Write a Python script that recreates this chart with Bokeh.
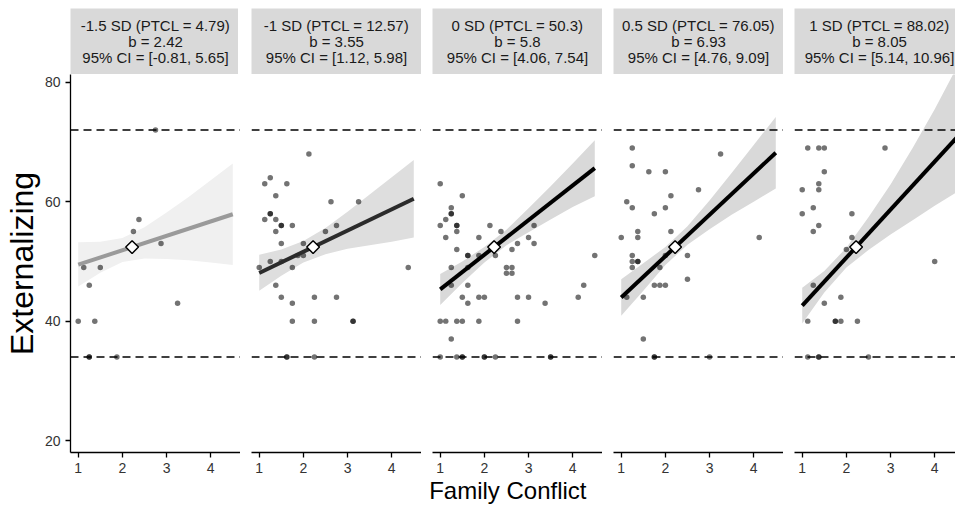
from bokeh.plotting import figure
from bokeh.layouts import row, column
from bokeh.models import Range1d, FixedTicker, Span, Title
from bokeh.embed import file_html
from bokeh.resources import INLINE
from bokeh.core.properties import value

FONT = "Liberation Sans"

# ---------------- data ----------------
strip_line1 = ["-1.5 SD (PTCL = 4.79)", "-1 SD (PTCL = 12.57)", "0 SD (PTCL = 50.3)",
               "0.5 SD (PTCL = 76.05)", "1 SD (PTCL = 88.02)"]
strip_line2 = ["b = 2.42", "b = 3.55", "b = 5.8", "b = 6.93", "b = 8.05"]
strip_line3 = ["95% CI = [-0.81, 5.65]", "95% CI = [1.12, 5.98]", "95% CI = [4.06, 7.54]",
               "95% CI = [4.76, 9.09]", "95% CI = [5.14, 10.96]"]
x_ticks = [1, 2, 3, 4]
y_ticks = [20, 40, 60, 80]
ref_lines = [72, 34]

p1_x = [1.0, 1.125, 1.25, 1.375, 1.5, 1.875, 2.25, 2.375, 2.75, 2.875, 3.25, 1.25, 1.25]
p1_y = [40, 49, 46, 40, 49, 34, 55, 57, 72, 53, 43, 34, 34]

p2_x = [2.125, 1.25, 1.125, 1.625, 1.375, 2.625, 3.25, 1.25, 1.25, 1.125, 1.375, 1.5, 1.5,
        1.75, 2.75, 1.375, 2.5, 1.5, 2.0, 1.875, 2.0, 1.0, 1.25, 1.5, 1.75, 4.375, 1.375,
        1.5, 2.25, 2.75, 1.75, 1.75, 2.25, 3.125, 3.125, 1.625, 1.625, 2.25]
p2_y = [68, 64, 63, 63, 61, 60, 60, 58, 58, 57, 57, 56, 56,
        56, 56, 55, 55, 53, 53, 51, 51, 49, 50, 50, 49, 49, 46,
        44, 44, 44, 43, 40, 40, 40, 40, 34, 34, 34]

p3_x = [1.0, 1.5, 1.25, 1.25, 1.25, 1.125, 1.0, 1.375, 1.375, 1.375, 2.125, 2.375, 3.125,
        1.125, 1.875, 3.0, 2.75, 3.125, 1.375, 2.625, 1.625, 1.625, 1.875, 2.25, 4.5,
        1.625, 1.25, 2.5, 2.625, 2.5, 2.625, 1.25, 1.625, 4.25, 1.5, 1.875, 2.0, 2.75,
        3.0, 4.125, 1.625, 3.375, 1.0, 1.125, 1.375, 1.5, 1.875, 2.75, 1.25, 1.0, 1.375,
        1.5, 1.5, 2.0, 2.0, 2.25, 3.5, 3.5]
p3_y = [63, 61, 59, 58, 58, 57, 56, 56, 56, 55, 56, 55, 56,
        54, 54, 54, 53, 53, 52, 52, 51, 51, 51, 51, 51,
        49, 49, 49, 49, 48, 48, 46, 46, 46, 44, 44, 44, 44,
        44, 44, 43, 43, 40, 40, 40, 40, 40, 40, 37, 34, 34,
        34, 34, 34, 34, 34, 34, 34]

p4_x = [1.25, 3.25, 1.25, 1.625, 2.0, 2.75, 2.125, 1.125, 1.25, 2.0, 1.75, 1.375, 2.125,
        1.0, 1.375, 4.125, 2.0, 2.5, 1.25, 1.25, 1.375, 1.375, 1.25, 1.875, 2.5, 1.75,
        1.875, 2.0, 1.125, 1.5, 1.5, 1.75, 1.75, 3.0]
p4_y = [69, 68, 66, 65, 65, 62, 61, 60, 59, 59, 58, 55, 55,
        54, 54, 54, 51, 51, 51, 50, 50, 50, 49, 49, 47, 46,
        46, 46, 44, 44, 37, 34, 34, 34]

p5_x = [1.125, 1.375, 1.5, 2.875, 1.5, 1.375, 1.0, 1.375, 1.25, 1.0, 2.125, 1.375, 1.25,
        2.125, 2.0, 4.0, 1.25, 1.875, 1.5, 1.125, 1.75, 1.75, 1.875, 2.25, 1.125, 1.375,
        1.375, 2.5]
p5_y = [69, 69, 69, 69, 65, 63, 62, 62, 59, 58, 58, 56, 55,
        54, 52, 50, 46, 44, 43, 40, 40, 40, 40, 40, 34, 34,
        34, 34]

points_x = [p1_x, p2_x, p3_x, p4_x, p5_x]
points_y = [p1_y, p2_y, p3_y, p4_y, p5_y]

# fitted line end points (x = 1 and x = 4.5)
line_x = [1.0, 4.5]
line_y = [[49.45, 57.90], [48.07, 60.49], [45.32, 65.62], [43.95, 68.20], [42.58, 70.75]]

# confidence band
band_x = [1.0, 1.5, 2.0, 2.5, 3.0, 3.5, 4.0, 4.5]
band_lower = [
    [45.8, 48.1, 49.9, 50.5, 50.4, 50.2, 49.8, 49.4],
    [45.1, 47.6, 49.8, 51.2, 52.1, 52.7, 53.3, 54.0],
    [42.7, 46.4, 49.8, 52.7, 54.9, 57.0, 59.1, 60.9],
    [40.9, 45.1, 49.4, 52.8, 55.4, 57.8, 60.0, 62.2],
    [39.6, 44.8, 49.0, 51.9, 54.5, 56.9, 59.3, 61.6],
]
band_upper = [
    [53.2, 53.3, 53.9, 55.7, 58.2, 60.8, 63.6, 66.4],
    [51.1, 52.0, 53.4, 55.6, 58.3, 61.2, 64.1, 67.0],
    [47.9, 50.0, 52.4, 55.3, 58.9, 62.6, 66.4, 70.3],
    [47.0, 49.7, 52.4, 55.9, 60.2, 64.8, 69.5, 74.2],
    [45.6, 48.4, 52.3, 57.4, 62.9, 69.0, 75.5, 82.5],
]

# mean point (diamond)
center_x = [2.22, 2.22, 2.22, 2.22, 2.22]
center_y = [52.4, 52.4, 52.4, 52.4, 52.4]

# ---------------- styles ----------------
line_colors = ["#9a9a9a", "#2b2b2b", "#000000", "#000000", "#000000"]
band_colors = ["#f0f0f0", "#dedede", "#d9d9d9", "#d9d9d9", "#d9d9d9"]
STRIP_FILL = "#d9d9d9"
X_LIM = (0.825, 4.675)
Y_LIM = (18.0, 81.3)
FRAME_W = 170
LAST_W = 161
GAP = 11
LEFT = 68
TOP = 8
STRIP_H = 66
FRAME_H = 378
BOTTOM = 50
STRIP_TEXT_Y = [0.745, 0.505, 0.265]
px_per_unit = FRAME_W / (X_LIM[1] - X_LIM[0])


def style_axis(ax):
    ax.axis_line_color = "black"
    ax.axis_line_width = 1.3
    ax.major_tick_line_color = "black"
    ax.major_tick_line_width = 1.3
    ax.major_tick_in = 0
    ax.major_tick_out = 5
    ax.minor_tick_line_color = None
    ax.major_label_text_font = FONT
    ax.major_label_text_font_size = "14px"
    ax.major_label_text_color = "#333333"
    ax.major_label_standoff = 5
    ax.axis_label_text_font = FONT
    ax.axis_label_text_font_style = "normal"
    ax.axis_label_text_color = "black"


cols = []
for i in range(5):
    fw = LAST_W if i == 4 else FRAME_W
    xr = Range1d(X_LIM[0], X_LIM[0] + fw / px_per_unit)
    lb = LEFT if i == 0 else GAP

    s = figure(frame_width=fw, frame_height=STRIP_H, x_range=xr, y_range=Range1d(0, 1),
               min_border_left=lb, min_border_right=0, min_border_top=TOP, min_border_bottom=0,
               x_axis_location=None, y_axis_location=None,
               toolbar_location=None, output_backend="svg",
               background_fill_color=STRIP_FILL, border_fill_color="white",
               outline_line_color=None)
    s.grid.visible = False
    xmid = (X_LIM[0] + X_LIM[1]) / 2
    for txt, ty in zip([strip_line1[i], strip_line2[i], strip_line3[i]], STRIP_TEXT_Y):
        s.text(x=[xmid], y=[ty], text=[txt],
               text_align="center", text_baseline="middle", text_font=value(FONT),
               text_font_size="15px", text_color="#1a1a1a")

    p = figure(frame_width=fw, frame_height=FRAME_H, x_range=xr, y_range=Range1d(*Y_LIM),
               min_border_left=lb, min_border_right=0, min_border_top=0,
               min_border_bottom=BOTTOM,
               y_axis_location="left" if i == 0 else None,
               toolbar_location=None, output_backend="svg",
               background_fill_color="white", border_fill_color="white",
               outline_line_color=None)
    p.grid.visible = False

    p.varea(x=band_x, y1=band_lower[i], y2=band_upper[i], fill_color=band_colors[i],
            fill_alpha=1.0)
    p.scatter(points_x[i], points_y[i], size=5.5, fill_color="black", fill_alpha=0.55,
              line_color=None)
    p.line(line_x, line_y[i], line_color=line_colors[i], line_width=4)
    p.scatter([center_x[i]], [center_y[i]], marker="square", size=9, angle=0.785398,
              fill_color="white", line_color="black", line_width=1.5)
    for yv in ref_lines:
        p.add_layout(Span(location=yv, dimension="width", line_color="black",
                          line_width=1.6, line_dash="8 5"))

    p.xaxis.ticker = FixedTicker(ticks=x_ticks)
    style_axis(p.xaxis[0])
    if i == 2:
        p.add_layout(Title(text="Family Conflict", align="right", offset=16, standoff=2,
                           text_font=FONT, text_font_size="24px", text_font_style="normal",
                           text_color="black", vertical_align="top"), "below")
    if i == 0:
        p.yaxis.ticker = FixedTicker(ticks=y_ticks)
        style_axis(p.yaxis[0])
        p.yaxis.axis_label = "Externalizing"
        p.yaxis.axis_label_text_font_size = "32px"
        p.yaxis.axis_label_standoff = 2

    cols.append(column(s, p, spacing=0))

layout = row(*cols, spacing=0)
open("out.html", "w").write(file_html(layout, INLINE))
